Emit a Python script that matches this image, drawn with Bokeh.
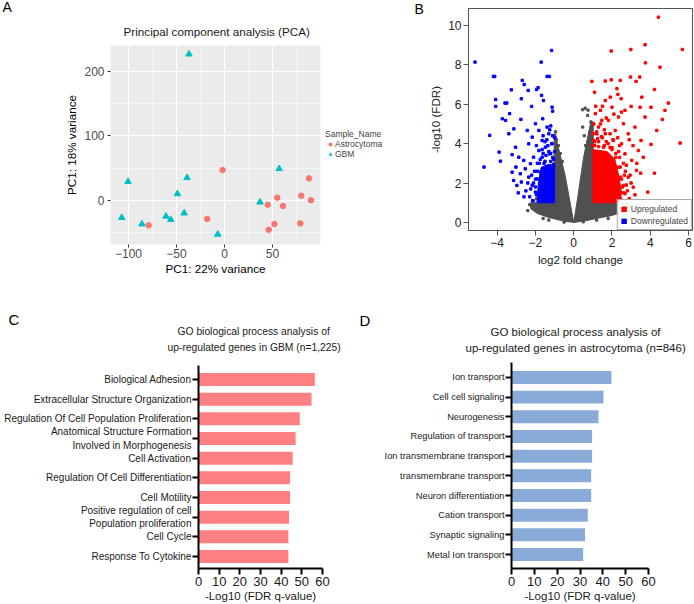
from bokeh.plotting import figure
from bokeh.models import Range1d, FixedTicker, Label, Legend, LegendItem, Title
from bokeh.layouts import row, column
from bokeh.embed import file_html
from bokeh.resources import INLINE

FONT = "Liberation Sans"

# ---------------- Panel A : PCA ----------------
astro_pc1 = [-79, -18, -2, 45, 55, 61, 46, 52, 80, 90, 79, 88]
astro_pc2 = [-39, -29, 47, -7, 4, -9, -46, -37, 7, 0, -36, 34]
gbm_pc1 = [-100.5, -107, -86, -61, -56, -49, -42, -7, 37, -37, -39, 57]
gbm_pc2 = [29, -27, -37, -25, -30, 10, -20, -53, -3, 227, 35, 49]
pca_xticks = [-100, -50, 0, 50]
pca_yticks = [0, 100, 200]

# ---------------- Panel B : volcano ----------------
blue_fc = [-5.16, -4.2, -4.13, -4.08, -4.08, -3.26, -3.59, -3.5, -3.73, -3.56, -3.35, -2.69, -2.59,
           -2.74, -2.38, -1.86, -1.94, -1.7, -1.16, -1.39, -1.27, -1.68, -1.58, -1.13, -1.1, -2.2,
           -2.76, -3.13, -4.39, -3.9, -3.83, -4.69, -3.39, -3.22, -3.04, -2.43, -2.17, -2.35, -2.87,
           -2.61, -2.0, -1.82, -3.22, -3.02, -2.79, -2.74, -2.53, -2.35, -2.17, -2.0, -2.26, -2.97,
           -3.14, -1.62, -1.39, -1.3, -1.65, -1.48, -1.82, -2.1, -1.65, -1.27, -1.13, -1.39, -1.74,
           -1.91, -1.05, -1.2, -1.35, -1.5, -1.1, -1.25, -1.55, -1.75, -1.9, -2.05, -2.2, -2.4, -2.5,
           -2.3, -2.15, -2.0, -1.65, -1.45, -1.15, -1.0, -2.6, -2.9, -1.95, -1.6,
           -1.95, -2.0, -1.9, -1.8, -1.5, -1.2, -1.1, -1.3, -1.6, -2.1, -2.25, -1.05, -1.4, -1.0, -1.2]
blue_fdr = [8.14, 7.41, 7.41, 6.24, 5.89, 6.73, 6.06, 6.06, 5.26, 5.18, 5.52, 7.21, 7.0,
            6.28, 6.7, 6.84, 6.75, 8.14, 8.73, 7.41, 7.41, 6.45, 6.19, 5.85, 5.65, 5.89,
            5.23, 4.75, 4.42, 3.57, 3.11, 2.81, 4.5, 3.44, 3.82, 4.67, 4.33, 3.99, 3.31,
            3.15, 5.01, 4.67, 2.55, 2.81, 2.47, 2.05, 2.72, 2.3, 1.88, 1.54, 2.98, 1.88,
            2.13, 5.26, 4.84, 4.5, 4.16, 3.82, 3.65, 3.31, 3.31, 3.48, 4.0, 2.81, 2.55,
            2.21, 3.2, 3.5, 3.9, 4.1, 4.4, 4.7, 3.0, 3.2, 3.0, 2.6, 2.4, 2.0, 1.6,
            1.3, 1.1, 1.8, 3.7, 3.4, 4.0, 3.6, 1.3, 1.5, 3.9, 4.4,
            1.4, 2.2, 2.6, 3.0, 3.1, 3.1, 3.3, 3.6, 3.5, 2.0, 1.7, 2.95, 4.2, 4.3, 4.9]
red_fc = [4.43, 5.68, 3.73, 2.99, 1.96, 3.75, 4.51, 0.95, 1.65, 1.96, 2.43, 2.97, 3.26, 3.45,
          1.09, 2.31, 2.48, 3.0, 3.56, 4.22, 4.04, 4.95, 4.77, 4.63, 4.34, 4.04, 5.56, 4.22,
          3.87, 3.52, 3.38, 3.03, 3.64, 3.28, 2.85, 3.11, 2.68, 2.94, 3.73, 2.68, 3.47, 2.85,
          3.2, 2.5, 2.68, 2.43, 2.17, 2.6, 1.65, 2.0, 1.39, 1.82, 2.34, 1.3, 2.17, 2.6, 1.65,
          2.08, 1.56, 1.13, 1.04, 1.21, 1.91, 2.26, 1.47, 1.1, 1.3, 1.5, 1.8, 2.0, 2.2, 2.4,
          2.6, 2.7, 2.5, 2.6, 2.75, 1.2, 1.6, 1.9, 2.3, 1.05, 1.4, 1.7, 2.1, 2.5, 2.9, 3.1,
          3.3, 3.5, 3.0, 3.2, 2.9, 1.15, 1.5,
          2.45, 2.55, 2.45, 2.3, 2.2, 2.0, 1.6, 1.3, 1.1, 1.7, 2.35, 2.65, 2.8, 2.6, 1.9,
          1.45, 1.25, 2.05, 2.75, 2.95, 2.4, 1.02, 1.0]
red_fdr = [10.42, 8.78, 9.02, 8.78, 8.7, 8.1, 7.88, 7.16, 7.18, 7.24, 7.21, 7.38, 7.16, 7.38,
           6.61, 6.5, 6.28, 5.89, 6.36, 6.75, 5.85, 6.06, 5.69, 5.23, 4.67, 3.96, 4.03, 2.5,
           1.54, 4.16, 3.65, 3.15, 3.31, 2.64, 2.3, 1.79, 1.46, 1.12, 5.35, 5.69, 5.85, 4.5,
           4.84, 3.99, 3.48, 2.81, 2.13, 1.88, 6.19, 5.85, 5.69, 5.18, 5.35, 4.84, 4.67, 5.01, 4.5,
           4.16, 3.82, 5.52, 4.16, 4.5, 6.36, 6.79, 5.18, 3.9, 4.1, 4.3, 4.0, 3.8, 3.5, 3.3,
           3.0, 2.6, 2.2, 1.5, 1.9, 4.6, 4.7, 4.5, 4.3, 5.0, 5.0, 5.3, 5.5, 5.6, 4.2, 3.9,
           3.0, 2.5, 2.0, 1.4, 1.2, 5.9, 5.9,
           1.2, 1.8, 2.3, 2.8, 3.3, 3.7, 3.9, 3.85, 4.1, 4.1, 3.6, 2.4, 1.6, 1.1, 3.8,
           4.35, 4.25, 4.2, 2.9, 2.4, 3.9, 4.5, 3.9]
gray_fc = [-2.3, -2.1, -1.95, 2.9, 2.7, 2.55, -0.95, -0.9, -0.8, 0.75, 0.6, 0.47, 0.73, 0.47,
           0.9, 0.55, -0.7, -1.6, 1.8, -2.4, 2.9, -0.5, 0.5, 0.62, 0.85, -0.6, 1.2, -1.3]
gray_fdr = [0.9, 1.1, 1.2, 0.9, 1.1, 1.05, 4.6, 4.2, 3.9, 5.7, 5.8, 5.72, 5.43, 4.84,
            5.1, 4.4, 3.5, 0.2, 0.2, 0.6, 0.5, 0.02, 0.03, 3.9, 4.6, 3.1, 0.12, 0.12]
# outlines of the saturated (overplotted) point clouds
gray_left_fc = [0, -0.15, -0.3, -0.45, -0.65, -0.85, -0.95, -1.02, -1.02, -2.25, -2.25, -1.9, -1.3, -0.6, 0]
gray_left_fdr = [0, 0.8, 1.6, 2.4, 3.2, 4.0, 4.5, 4.5, 1.0, 1.0, 0.7, 0.45, 0.25, 0.08, 0]
gray_right_fc = [0, 0.6, 1.3, 2.0, 2.6, 2.85, 2.8, 1.02, 1.02, 0.9, 0.7, 0.5, 0.35, 0.2, 0]
gray_right_fdr = [0, 0.08, 0.22, 0.35, 0.55, 0.8, 1.0, 1.0, 5.1, 5.1, 4.2, 3.2, 2.2, 1.2, 0]
blue_core_fc = [-1.92, -1.0, -1.0, -1.3, -1.7, -1.85]
blue_core_fdr = [1.0, 1.0, 2.9, 2.95, 2.8, 2.0]
red_core_fc = [1.0, 2.4, 2.5, 2.35, 2.15, 1.75, 1.0]
red_core_fdr = [1.0, 1.0, 1.5, 2.4, 3.2, 3.6, 3.7]
volcano_xticks = [-4, -2, 0, 2, 4, 6]
volcano_yticks = [0, 2, 4, 6, 8, 10]

# ---------------- Panels C, D : GO bars ----------------
gbm_terms = ["Biological Adhesion", "Extracellular Structure Organization",
             "Regulation Of Cell Population Proliferation",
             "Anatomical Structure Formation\nInvolved in Morphogenesis",
             "Cell Activation", "Regulation Of Cell Differentiation", "Cell Motility",
             "Positive regulation of cell\nPopulation proliferation", "Cell Cycle",
             "Response To Cytokine"]
gbm_vals = [56.3, 54.7, 49.0, 47.0, 45.6, 44.3, 44.3, 43.8, 43.5, 43.5]
astro_terms = ["Ion transport", "Cell cell signaling", "Neurogenesis", "Regulation of transport",
               "Ion transmembrane transport", "transmembrane transport", "Neuron differentiation",
               "Cation transport", "Synaptic signaling", "Metal Ion transport"]
astro_vals = [43.8, 40.3, 38.1, 35.3, 35.3, 34.9, 34.9, 33.4, 32.2, 31.4]
go_xticks = [0, 10, 20, 30, 40, 50, 60]


def add_title(p, txt, size, standoff, offset, valign="bottom", color="#1a1a1a"):
    p.add_layout(Title(text=txt, align="left", offset=offset, standoff=standoff,
                       vertical_align=valign, text_font=FONT, text_font_size=size,
                       text_font_style="normal", text_color=color), "above")


# ===== A =====
pA = figure(width=322, height=300, output_backend="svg", toolbar_location=None,
            frame_align=False,
            x_range=Range1d(-118.75, 100), y_range=Range1d(-68.8, 240.5),
            min_border_left=110, min_border_right=2, min_border_top=43, min_border_bottom=56)
pA.background_fill_color = "#EBEBEB"
pA.outline_line_color = None
pA.xaxis.ticker = FixedTicker(ticks=pca_xticks, minor_ticks=[-125, -75, -25, 25, 75])
pA.yaxis.ticker = FixedTicker(ticks=pca_yticks, minor_ticks=[-50, 50, 150])
pA.xaxis.major_label_overrides = {t: str(t).replace("-", "\u2212") for t in pca_xticks}
pA.grid.grid_line_color = "white"
pA.grid.grid_line_width = 1.1
pA.grid.minor_grid_line_color = "white"
pA.grid.minor_grid_line_width = 0.5
for ax in (pA.xaxis, pA.yaxis):
    ax.axis_line_color = None
    ax.major_tick_line_color = "#333333"
    ax.major_tick_out = 3
    ax.major_tick_in = 0
    ax.minor_tick_line_color = None
    ax.major_label_text_color = "#4D4D4D"
    ax.major_label_text_font = FONT
    ax.major_label_text_font_size = "12px"
    ax.axis_label_text_font = FONT
    ax.axis_label_text_font_size = "11.7px"
    ax.axis_label_text_font_style = "normal"
    ax.axis_label_text_color = "black"
pA.xaxis.major_label_standoff = 0
pA.xaxis.axis_label_standoff = 1
pA.yaxis.major_label_standoff = 2
pA.yaxis.axis_label_standoff = 3
pA.xaxis.axis_label = "PC1: 22% variance"
pA.yaxis.axis_label = "PC1: 18% variance"
pA.scatter(astro_pc1, astro_pc2, marker="circle", size=5.5, color="#F8766D")
pA.scatter(gbm_pc1, gbm_pc2, marker="triangle", size=6.5, color="#00BFC4")
add_title(pA, "Principal component analysis (PCA)", "11.7px", 16, offset=13)
add_title(pA, "A", "14px", -4, offset=-108, valign="top", color="black")

# ===== legend strip between A and B =====
pL = figure(width=102, height=300, output_backend="svg", toolbar_location=None,
            frame_align=False, x_range=Range1d(0, 102), y_range=Range1d(300, 0),
            x_axis_location=None, y_axis_location=None, min_border=0)
pL.grid.grid_line_color = None
pL.outline_line_color = None
# zero-size copies of the PCA series: only their legend swatches are visible here
la = pL.scatter(astro_pc1, astro_pc2, marker="circle", size=0,
                fill_color="#F8766D", line_color=None)
lg = pL.scatter(gbm_pc1, gbm_pc2, marker="triangle", size=0,
                fill_color="#00BFC4", line_color=None)
legA = Legend(items=[LegendItem(label="Astrocytoma", renderers=[la]),
                     LegendItem(label="GBM", renderers=[lg])],
              title="Sample_Name", location=(3, 141), orientation="vertical",
              title_text_font=FONT, title_text_font_size="8.5px", title_text_font_style="normal",
              title_standoff=0, label_text_font=FONT, label_text_font_size="8.5px",
              label_text_line_height=0.9,
              label_height=8, glyph_height=10, glyph_width=10, label_standoff=0, spacing=0,
              padding=0, margin=0, border_line_color=None, background_fill_alpha=0)
pL.add_layout(legA)
pL.add_layout(Label(x=92, y=0, text="B", text_font=FONT, text_font_size="14px",
                    text_align="left", text_baseline="top", text_color="black"))

# ===== B =====
pB = figure(width=270, height=300, output_backend="svg", toolbar_location=None,
            frame_align=False,
            x_range=Range1d(-5.5, 6.21), y_range=Range1d(-0.41, 10.86),
            min_border_left=44, min_border_right=2, min_border_top=8, min_border_bottom=70)
pB.grid.grid_line_color = None
pB.outline_line_color = "#555555"
pB.xaxis.ticker = FixedTicker(ticks=volcano_xticks, minor_ticks=[])
pB.yaxis.ticker = FixedTicker(ticks=volcano_yticks, minor_ticks=[])
pB.xaxis.major_label_overrides = {t: str(t).replace("-", "\u2212") for t in volcano_xticks}
for ax in (pB.xaxis, pB.yaxis):
    ax.axis_line_color = "#555555"
    ax.major_tick_line_color = "#555555"
    ax.major_tick_out = 5
    ax.major_tick_in = 0
    ax.minor_tick_line_color = None
    ax.major_label_text_color = "#222222"
    ax.major_label_text_font = FONT
    ax.major_label_text_font_size = "12px"
    ax.major_label_standoff = 2
    ax.axis_label_text_font = FONT
    ax.axis_label_text_font_size = "11.6px"
    ax.axis_label_text_font_style = "normal"
    ax.axis_label_text_color = "#222222"
    ax.axis_label_standoff = 3
pB.xaxis.axis_label = "log2 fold change"
pB.yaxis.axis_label = "-log10 (FDR)"
pB.patches([gray_left_fc, gray_right_fc], [gray_left_fdr, gray_right_fdr],
           fill_color="#505050", line_color="#505050", line_width=1)
pB.scatter(gray_fc, gray_fdr, marker="square", size=2.2, color="#505050")
dn_r = pB.patch(blue_core_fc, blue_core_fdr, fill_color="#0000FF", line_color="#0000FF", line_width=1)
pB.scatter(blue_fc, blue_fdr, marker="square", size=2.4, color="#0000FF")
up_r = pB.patch(red_core_fc, red_core_fdr, fill_color="#FF0000", line_color="#FF0000", line_width=1)
pB.scatter(red_fc, red_fdr, marker="square", size=2.4, color="#FF0000")
legB = Legend(items=[LegendItem(label="Upregulated", renderers=[up_r]),
                     LegendItem(label="Downregulated", renderers=[dn_r])],
              location="bottom_right", label_text_font=FONT, label_text_font_size="8.5px",
              label_height=11, glyph_height=6, glyph_width=6, label_standoff=4, spacing=1,
              padding=3, margin=0, border_line_color="#555555", background_fill_color="white")
pB.add_layout(legB)


# ===== C & D =====
def go_panel(terms, vals, color, width, left, right, top, bottom, pad_top, pad_bottom, label_size):
    ypos = list(range(len(terms)))
    p = figure(width=width, height=304, output_backend="svg", toolbar_location=None,
               frame_align=False,
               x_range=Range1d(0, 60), y_range=Range1d(len(terms) - 1 + pad_bottom, -pad_top),
               min_border_left=left, min_border_right=right, min_border_top=top,
               min_border_bottom=bottom)
    p.grid.grid_line_color = None
    p.outline_line_color = None
    p.hbar(y=ypos, left=0, right=vals, height=0.66, fill_color=color, line_color=None)
    p.xaxis.ticker = FixedTicker(ticks=go_xticks, minor_ticks=[])
    p.yaxis.ticker = FixedTicker(ticks=ypos, minor_ticks=[])
    p.yaxis.major_label_overrides = {i: t for i, t in zip(ypos, terms)}
    for ax in (p.xaxis, p.yaxis):
        ax.axis_line_color = "black"
        ax.axis_line_width = 2
        ax.major_tick_line_color = "black"
        ax.major_tick_line_width = 2
        ax.major_tick_out = 6
        ax.major_tick_in = 0
        ax.minor_tick_line_color = None
        ax.major_label_text_color = "#1a1a1a"
        ax.major_label_text_font = FONT
        ax.axis_label_text_font = FONT
        ax.axis_label_text_font_style = "normal"
        ax.axis_label_text_color = "#1a1a1a"
    p.xaxis.major_label_text_font_size = "13px"
    p.xaxis.major_label_standoff = 2
    p.yaxis.major_label_text_font_size = label_size
    p.yaxis.major_label_standoff = 1
    p.xaxis.axis_label = "-Log10 (FDR q-value)"
    p.xaxis.axis_label_text_font_size = "11.5px"
    p.xaxis.axis_label_standoff = 1
    return p


pC = go_panel(gbm_terms, gbm_vals, "#FF8080", 350, 198, 28, 65, 36, 0.71, 0.61, "10px")
add_title(pC, "up-regulated genes in GBM (n=1,225)", "10.3px", 21, offset=-31, valign="top")
add_title(pC, "GO biological process analysis of", "10.3px", -10, offset=-21)
add_title(pC, "C", "15px", 1, offset=-190, color="black")

pD = go_panel(astro_terms, astro_vals, "#8AABD8", 344, 161, 46, 62, 35, 0.76, 0.71, "9.3px")
add_title(pD, "up-regulated genes in astrocytoma (n=846)", "11.5px", 14, offset=-46, valign="top")
add_title(pD, "GO biological process analysis of", "11.5px", -6, offset=-21)
add_title(pD, "D", "15px", -4, offset=-152, color="black")

layout = column(row(pA, pL, pB), row(pC, pD))
open("out.html", "w").write(file_html(layout, INLINE))
